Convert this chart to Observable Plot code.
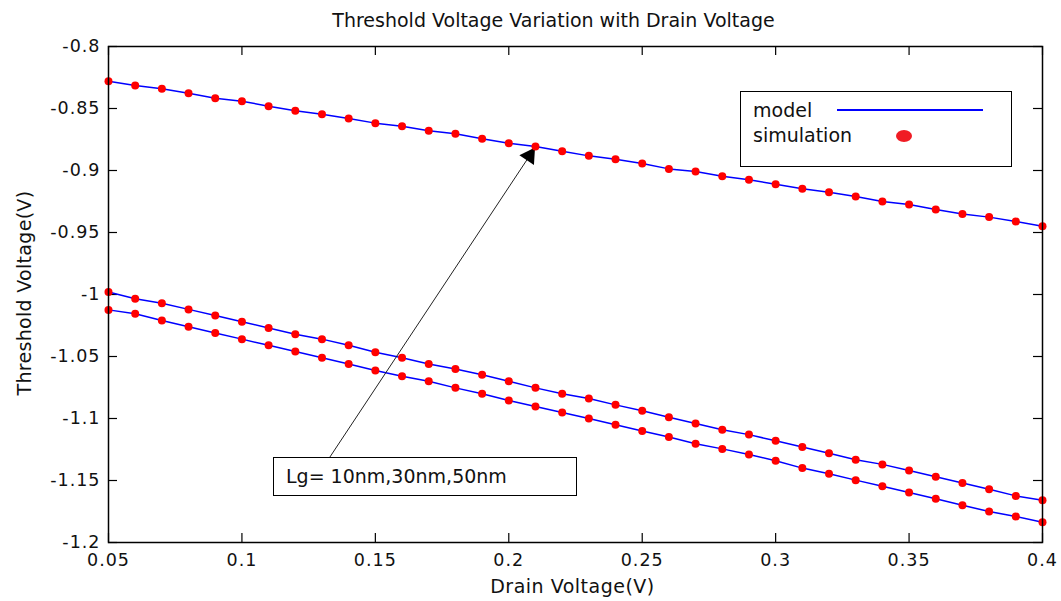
<!DOCTYPE html>
<html>
<head>
<meta charset="utf-8">
<script src="https://cdn.jsdelivr.net/npm/d3@7"></script>
<script src="https://cdn.jsdelivr.net/npm/@observablehq/plot@0.6"></script>
<style>
  html, body { margin: 0; padding: 0; background: #fff; }
  #wrap { position: relative; width: 1061px; height: 601px; font-family: "DejaVu Sans", sans-serif; color: #111; }
  #wrap .t { position: absolute; white-space: nowrap; font-size: 19px; line-height: 19px; }
  #legend { position: absolute; left: 740px; top: 91px; width: 272px; height: 76px; box-sizing: border-box; border: 1.5px solid #000; background: #fff; }
  #note { position: absolute; left: 273px; top: 457px; width: 304px; height: 39px; box-sizing: border-box; border: 1.5px solid #000; background: #fff; }
</style>
</head>
<body>
<div id="wrap"></div>
<script>
// ---- data ----
const drainVoltage = [0.05,0.06,0.07,0.08,0.09,0.10,0.11,0.12,0.13,0.14,0.15,0.16,0.17,0.18,0.19,0.20,0.21,0.22,0.23,0.24,0.25,0.26,0.27,0.28,0.29,0.30,0.31,0.32,0.33,0.34,0.35,0.36,0.37,0.38,0.39,0.40];
const curveTop = [-0.828,-0.8315,-0.834,-0.8377,-0.8417,-0.8441,-0.8481,-0.8519,-0.8546,-0.858,-0.8618,-0.8643,-0.868,-0.8704,-0.8744,-0.878,-0.8806,-0.8844,-0.8882,-0.8909,-0.8944,-0.8987,-0.9008,-0.9047,-0.9075,-0.911,-0.9148,-0.9175,-0.921,-0.925,-0.9274,-0.9315,-0.935,-0.9376,-0.9411,-0.945];
const curveMiddle = [-0.998,-1.0035,-1.007,-1.012,-1.017,-1.022,-1.027,-1.032,-1.036,-1.041,-1.0465,-1.051,-1.056,-1.060,-1.0648,-1.070,-1.0753,-1.080,-1.0839,-1.089,-1.0938,-1.099,-1.104,-1.109,-1.113,-1.118,-1.123,-1.128,-1.1333,-1.137,-1.142,-1.147,-1.152,-1.157,-1.1624,-1.166];
const curveBottom = [-1.0124,-1.0156,-1.021,-1.026,-1.031,-1.036,-1.041,-1.046,-1.051,-1.056,-1.0613,-1.0659,-1.070,-1.0753,-1.080,-1.0855,-1.0903,-1.0952,-1.100,-1.105,-1.110,-1.115,-1.1204,-1.1245,-1.129,-1.134,-1.140,-1.1446,-1.1497,-1.1546,-1.1597,-1.1648,-1.170,-1.175,-1.179,-1.1836];
const xTicks = [0.05,0.1,0.15,0.2,0.25,0.3,0.35,0.4];
const xTickLabels = ["0.05","0.1","0.15","0.2","0.25","0.3","0.35","0.4"];
const yTicks = [-0.8,-0.85,-0.9,-0.95,-1,-1.05,-1.1,-1.15,-1.2];
const yTickLabels = ["-0.8","-0.85","-0.9","-0.95","-1","-1.05","-1.1","-1.15","-1.2"];
const arrowFrom = [0.1321, -1.1339];
const arrowTo = [0.21, -0.881];
const titleText = "Threshold Voltage Variation with Drain Voltage";
const xLabel = "Drain Voltage(V)";
const yLabel = "Threshold Voltage(V)";
const legendLabels = ["model", "simulation"];
const noteText = "Lg= 10nm,30nm,50nm";

// ---- build table ----
const series = [curveTop, curveMiddle, curveBottom];
const rows = [];
series.forEach((vals, s) => vals.forEach((v, i) => rows.push({s, x: drainVoltage[i], y: v})));
const arrowRows = [{x1: arrowFrom[0], y1: arrowFrom[1], x2: arrowTo[0], y2: arrowTo[1]}];

const W = 1061, H = 601, mL = 108, mR = 19, mT = 46, mB = 59;
const plotW = W - mL - mR, plotH = H - mT - mB, tk = 9;

const chart = Plot.plot({
  width: W, height: H,
  marginLeft: mL, marginRight: mR, marginTop: mT, marginBottom: mB,
  style: {fontFamily: "'DejaVu Sans', sans-serif", fontSize: "17.5px", letterSpacing: "1px", color: "#111", background: "#fff"},
  x: {domain: [0.05, 0.4]},
  y: {domain: [-1.2, -0.8]},
  marks: [
    Plot.axisX(xTicks, {tickSize: 0, tickPadding: 11, label: null, fontSize: 17.5, tickFormat: d => xTickLabels[xTicks.indexOf(d)]}),
    Plot.axisY(yTicks, {tickSize: 0, tickPadding: 8, label: null, fontSize: 17.5, tickFormat: d => yTickLabels[yTicks.indexOf(d)]}),
    Plot.tickX(xTicks, {x: d => d, insetTop: plotH - tk, stroke: "#000", strokeWidth: 1.2}),
    Plot.tickX(xTicks, {x: d => d, insetBottom: plotH - tk, stroke: "#000", strokeWidth: 1.2}),
    Plot.tickY(yTicks, {y: d => d, insetRight: plotW - tk, stroke: "#000", strokeWidth: 1.2}),
    Plot.tickY(yTicks, {y: d => d, insetLeft: plotW - tk, stroke: "#000", strokeWidth: 1.2}),
    Plot.line(rows, {x: "x", y: "y", z: "s", stroke: "#0000ff", strokeWidth: 1.5}),
    Plot.link(arrowRows, {x1: "x1", y1: "y1", x2: "x2", y2: "y2", stroke: "#222", strokeWidth: 1}),
    Plot.dot(arrowRows, {x: "x2", y: "y2", symbol: "triangle", r: 6.5, fill: "#000", rotate: 33.6, dx: -6, dy: 9}),
    Plot.dot(rows, {x: "x", y: "y", r: 4, fill: "#ff0000", stroke: null}),
    Plot.frame({stroke: "#000", strokeWidth: 1.5})
  ]
});

const wrap = document.getElementById("wrap");
wrap.appendChild(chart);
chart.style.position = "absolute";
chart.style.left = "0px";
chart.style.top = "0px";

function addText(txt, css) {
  const d = document.createElement("div");
  d.className = "t";
  d.textContent = txt;
  Object.assign(d.style, css);
  wrap.appendChild(d);
  return d;
}
addText(titleText, {left: "553.5px", top: "10.5px", transform: "translateX(-50%)"});
addText(xLabel, {left: "572.5px", top: "577px", transform: "translateX(-50%)", letterSpacing: "0.5px"});
addText(yLabel, {left: "24px", top: "293px", transform: "translate(-50%,-50%) rotate(-90deg)", letterSpacing: "0.3px"});

const legend = document.createElement("div");
legend.id = "legend";
wrap.appendChild(legend);
addText(legendLabels[0], {left: "753px", top: "101px"});
addText(legendLabels[1], {left: "753px", top: "125.5px"});
const ln = document.createElement("div");
Object.assign(ln.style, {position: "absolute", left: "837px", top: "109.3px", width: "146px", height: "1.5px", background: "#0000ff"});
wrap.appendChild(ln);
const ld = document.createElement("div");
Object.assign(ld.style, {position: "absolute", left: "896px", top: "129.5px", width: "16px", height: "12px", borderRadius: "50%", background: "#f01c24"});
wrap.appendChild(ld);

const note = document.createElement("div");
note.id = "note";
wrap.appendChild(note);
addText(noteText, {left: "286px", top: "467px"});
</script>
</body>
</html>
